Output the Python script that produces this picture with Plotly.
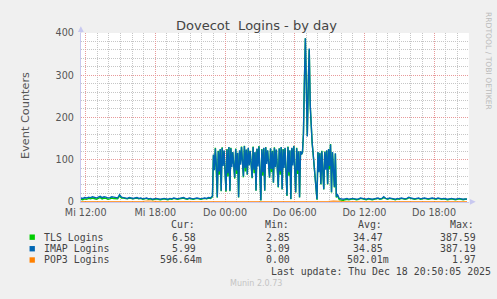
import plotly.graph_objects as go
import pandas as pd

# ---------------- data ----------------
# quiet period Wed (10-min steps)
tls_a = [6, 5, 7, 6, 8, 7, 9, 8, 6, 8,
         10, 7, 9, 8, 6, 7, 9, 8, 8, 7,
         14, 9, 9, 8, 7, 9, 8, 7, 8, 9,
         7, 8, 6, 7, 8, 6, 7, 5, 6, 7,
         6, 5, 6, 7, 6, 5, 7, 6, 8, 7,
         6, 7, 8, 9, 7, 6, 8, 7, 6, 7,
         8, 7, 6, 7, 8, 7, 9, 8]
imap_a = [9, 8, 10, 9, 11, 10, 12, 10, 9, 11,
          13, 10, 12, 11, 9, 10, 12, 11, 10, 9,
          17, 11, 10, 9, 8, 10, 9, 8, 9, 10,
          8, 9, 7, 8, 9, 7, 8, 6, 7, 8,
          7, 6, 7, 8, 7, 6, 8, 7, 9, 8,
          7, 8, 9, 10, 8, 7, 9, 8, 7, 8,
          9, 8, 7, 8, 9, 8, 10, 9]
# busy period Wed night - Thu morning (5-min steps)
tls_b = [12,
         110, 82, 128, 80, 10,
         121, 64, 124, 25,
         129, 92, 120, 62, 24,
         125, 60, 129, 25,
         128, 90, 117, 84, 55,
         126, 66, 115, 10,
         121, 96, 131, 88, 58,
         133, 72, 123, 64,
         127, 94, 121, 85, 56,
         131, 68, 117, 26,
         125, 92, 132, 70, 3,
         125, 62, 127, 26,
         130, 98, 121, 88, 57,
         126, 70, 121, 45,
         129, 90, 123, 76, 34,
         127, 64, 129, 29,
         125, 88, 127, 66, 14,
         131, 62, 121, 6,
         127, 94, 133, 70, 22,
         128, 66, 119, 10,
         119, 113, 117, 162, 287, 387.59, 268, 157, 282, 361,
         228, 166, 139, 114, 89, 59, 29, 5,
         117, 78, 116, 41,
         121, 72, 29,
         119, 84, 121, 41,
         124, 77, 137, 22,
         117, 80, 34,
         114, 10, 16]
imap_b = [14,
          112, 75, 126, 88, 11,
          120, 72, 125, 26,
          128, 85, 122, 70, 26,
          124, 68, 130, 26,
          127, 82, 118, 90, 57,
          125, 74, 116, 11,
          122, 88, 130, 95, 60,
          132, 80, 124, 65,
          128, 86, 120, 92, 57,
          130, 76, 118, 27,
          126, 84, 131, 78, 4,
          124, 70, 128, 27,
          129, 90, 122, 95, 58,
          127, 78, 120, 46,
          128, 82, 124, 84, 35,
          126, 72, 130, 30,
          124, 80, 128, 74, 15,
          130, 70, 122, 7,
          128, 86, 132, 78, 23,
          127, 74, 120, 11,
          120, 112, 118, 160, 285, 387.19, 270, 155, 280, 363,
          230, 165, 140, 115, 90, 60, 30, 6,
          118, 70, 115, 42,
          120, 80, 30,
          118, 76, 122, 42,
          125, 85, 136, 23,
          118, 72, 35,
          115, 12, 18]
# quiet period Thu (10-min steps)
tls_c = [5, 4, 2.85, 5, 6, 5, 6, 7, 6, 5,
         6, 8, 7, 6, 5, 7, 6, 5, 6, 7,
         8, 6, 7, 10, 7, 6, 8, 7, 6, 5,
         7, 6, 8, 7, 6, 7, 10, 8, 7, 6,
         7, 8, 6, 7, 8, 7, 6, 7, 8, 7,
         6, 8, 7, 6, 7, 6, 5, 6, 7, 6,
         5, 6, 7, 6, 5, 6, 6.58]
imap_c = [8, 7, 6, 7, 8, 6, 7, 8, 7, 6,
          7, 9, 8, 7, 6, 8, 7, 6, 7, 8,
          9, 7, 8, 12, 8, 7, 9, 8, 7, 6,
          8, 7, 9, 8, 7, 8, 11, 9, 8, 7,
          8, 9, 7, 8, 9, 8, 7, 8, 9, 8,
          7, 9, 8, 7, 8, 7, 6, 7, 8, 7,
          6, 7, 8, 7, 6, 7, 5.99]
# POP3 (30-min steps)
pop3 = [0.5, 0.4, 0.6, 0.5, 1.2, 0.5, 0.4, 0.6, 0.5, 0.4,
        0.5, 0.6, 1.97, 0.5, 0.4, 0.5, 0.6, 0.4, 0.5, 0.4,
        0.5, 0.6, 0.4, 0.5, 0.5, 0.4, 0.6, 0.5, 0.4, 0.5,
        0.6, 0.5, 0.4, 0.5, 0.6, 0.5, 0.4, 0.5, 0.6, 0.5,
        0.4, 0.5, 0.6, 0.5, 1.5, 0.5, 0.4, 0.6, 0.5, 0.4,
        0.5, 0.6, 0.5, 0.4, 0.5, 0.6, 0.4, 0.5, 0.6, 0.5,
        0.4, 0.5, 0.6, 0.5, 0.4, 0.5, 0.6, 0.59664]

tick_vals = ["2025-12-17 12:00", "2025-12-17 18:00", "2025-12-18 00:00",
             "2025-12-18 06:00", "2025-12-18 12:00", "2025-12-18 18:00"]
tick_text = ["Mi 12:00", "Mi 18:00", "Do 00:00", "Do 06:00", "Do 12:00", "Do 18:00"]
y_ticks = [0, 100, 200, 300, 400]
y_minor = [v for v in range(20, 400, 20) if v % 100 != 0]

series_names = ["TLS Logins", "IMAP Logins", "POP3 Logins"]
series_colors = ["#00CC00", "#0066B3", "#FF8000"]
stat_cur = ["6.58", "5.99", "596.64m"]
stat_min = ["2.85", "3.09", "0.00"]
stat_avg = ["34.47", "34.85", "502.01m"]
stat_max = ["387.59", "387.19", "1.97"]

# ---------------- time axes ----------------
t_a = pd.date_range("2025-12-17 11:35", periods=len(imap_a), freq="10min")
t_b = pd.date_range("2025-12-17 22:55", periods=len(imap_b), freq="5min")
t_c = pd.date_range("2025-12-18 09:50", periods=len(imap_c), freq="10min")
t_all = list(t_a) + list(t_b) + list(t_c)
t_pop = pd.date_range("2025-12-17 11:20", periods=len(pop3), freq="30min")

tls = tls_a + tls_b + tls_c
imap = imap_a + imap_b + imap_c

W, H = 497, 299


def px(x):
    return x / W


def py(y):
    return 1 - y / H


fig = go.Figure()
fig.add_trace(go.Scatter(x=t_all, y=tls, mode="lines",
                         line=dict(color=series_colors[0], width=1.4), hoverinfo="skip"))
fig.add_trace(go.Scatter(x=t_all, y=imap, mode="lines",
                         line=dict(color=series_colors[1], width=1.4), hoverinfo="skip"))
fig.add_trace(go.Scatter(x=t_pop, y=pop3, mode="lines",
                         line=dict(color=series_colors[2], width=1.2), hoverinfo="skip"))

axis_col = "#C8C8F0"
maj_col = "#E89A9A"
min_col = "#C6C6C6"

fig.update_layout(
    width=W, height=H,
    margin=dict(l=0, r=0, t=0, b=0),
    paper_bgcolor="#F0F0F0",
    plot_bgcolor="#FFFFFF",
    showlegend=False,
    font=dict(family="DejaVu Sans", color="#555555"),
    xaxis=dict(
        domain=[px(67), px(468)],
        range=["2025-12-17 11:35", "2025-12-18 21:00"],
        tickmode="array", tickvals=tick_vals, ticktext=tick_text,
        showgrid=True, gridcolor=maj_col, griddash="1px,1px", gridwidth=1,
        minor=dict(dtick=3600000, tick0="2025-12-17 12:00", showgrid=True,
                   gridcolor=min_col, griddash="1px,1px", gridwidth=1),
        showline=True, linecolor=axis_col, linewidth=1,
        zeroline=False, ticks="", ticklabelstandoff=2,
        tickfont=dict(family="DejaVu Sans", size=9.6, color="#555555"),
        layer="below traces", fixedrange=True,
    ),
    yaxis=dict(
        domain=[py(203.3), py(28)],
        range=[0, 400],
        tickmode="array", tickvals=y_ticks, ticktext=[str(v) for v in y_ticks],
        showgrid=True, gridcolor=maj_col, griddash="1px,1px", gridwidth=1,
        minor=dict(tickmode="array", tickvals=y_minor, showgrid=True,
                   gridcolor=min_col, griddash="1px,1px", gridwidth=1),
        showline=True, linecolor=axis_col, linewidth=1,
        zeroline=False, ticks="", ticklabelstandoff=4,
        tickfont=dict(family="DejaVu Sans", size=9.6, color="#555555"),
        layer="below traces", fixedrange=True,
    ),
)

# axis arrows
fig.add_shape(type="path", xref="paper", yref="paper",
              path=f"M {px(64)},{py(27)} L {px(70)},{py(27)} L {px(67)},{py(21)} Z",
              fillcolor=axis_col, line=dict(color=axis_col, width=0))
fig.add_shape(type="line", xref="paper", yref="paper",
              x0=px(67), x1=px(67), y0=py(28), y1=py(24),
              line=dict(color=axis_col, width=1))
fig.add_shape(type="path", xref="paper", yref="paper",
              path=f"M {px(469)},{py(200.3)} L {px(469)},{py(206.3)} L {px(475)},{py(203.3)} Z",
              fillcolor=axis_col, line=dict(color=axis_col, width=0))

ann = []
ann.append(dict(text="Dovecot\u00a0\u00a0Logins - by day", x=px(248.7), y=py(20),
                xanchor="center", yanchor="middle",
                font=dict(family="DejaVu Sans", size=13, color="#444444")))
ann.append(dict(text="Event Counters", x=px(10), y=py(113.5), textangle=-90,
                xanchor="center", yanchor="middle",
                font=dict(family="DejaVu Sans", size=11.3, color="#555555")))
ann.append(dict(text="RRDTOOL / TOBI OETIKER", x=px(487.5), y=py(58), textangle=90,
                xanchor="center", yanchor="middle",
                font=dict(family="DejaVu Sans", size=7.6, color="#BBBBBB")))
ann.append(dict(text="Munin 2.0.73", x=px(248), y=py(288.3),
                xanchor="center", yanchor="middle",
                font=dict(family="DejaVu Sans", size=8, color="#C4C4C4")))

mono = dict(family="DejaVu Sans Mono", size=9.9, color="#444444")
header_y = 227.3
row_y = [240, 252, 263.7]
for txt, xx in [("Cur:", 158.3), ("Min:", 255), ("Avg:", 351.7), ("Max:", 446.7)]:
    ann.append(dict(text=txt, x=px(xx), y=py(header_y), xanchor="left",
                    yanchor="middle", font=mono))

for i in range(3):
    yy = py(row_y[i])
    ann.append(dict(text=series_names[i], x=px(26.7), y=yy, xanchor="left",
                    yanchor="middle", font=mono))
    for vals, right in [(stat_cur, 188.5), (stat_min, 285.0), (stat_avg, 381.3), (stat_max, 477.0)]:
        s = vals[i]
        r = right + (5.96 if s.endswith("m") else 0)
        ann.append(dict(text=s, x=px(r), y=yy, xanchor="right",
                        yanchor="middle", font=mono))
    fig.add_shape(type="rect", xref="paper", yref="paper",
                  x0=px(14), x1=px(19.5), y0=py(row_y[i] + 2.8), y1=py(row_y[i] - 2.8),
                  fillcolor=series_colors[i], line=dict(width=0))

ann.append(dict(text="Last update: Thu Dec 18 20:50:05 2025", x=px(261.7), y=py(275.3),
                xanchor="left", yanchor="middle", font=mono))

for a in ann:
    a.update(xref="paper", yref="paper", showarrow=False)
    fig.add_annotation(**a)

fig.write_html("out.html", config={"displayModeBar": False, "staticPlot": True})
